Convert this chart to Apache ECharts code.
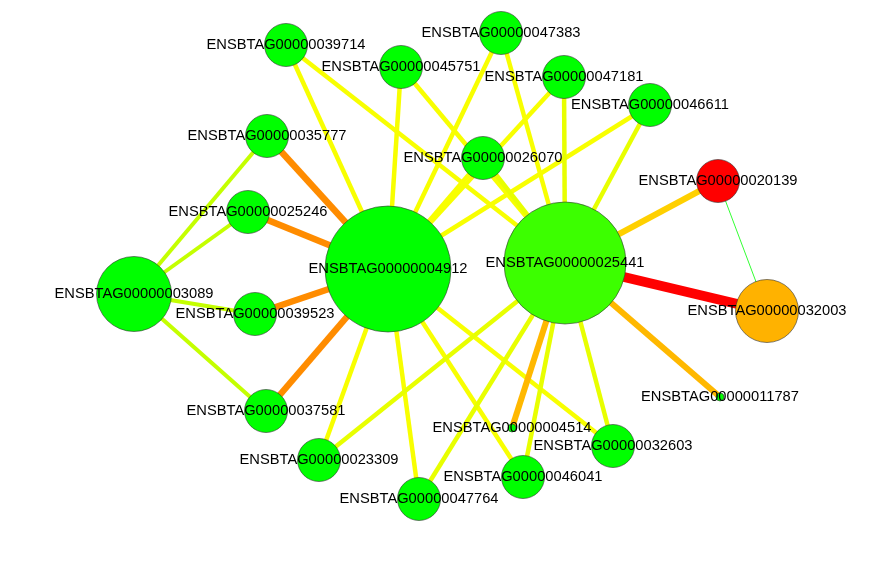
<!DOCTYPE html>
<html>
<head>
<meta charset="utf-8">
<script src="https://cdn.jsdelivr.net/npm/echarts@6/dist/echarts.min.js"></script>
<style>
  html, body { margin: 0; padding: 0; background: #fff; }
  #chart { width: 888px; height: 579px; }
</style>
</head>
<body>
<div id="chart"></div>
<script>
// node ids (Ensembl cattle genes)
const genes = [
  'ENSBTAG00000004912', 'ENSBTAG00000025441', 'ENSBTAG00000003089', 'ENSBTAG00000032003',
  'ENSBTAG00000020139', 'ENSBTAG00000039714', 'ENSBTAG00000045751', 'ENSBTAG00000047383',
  'ENSBTAG00000047181', 'ENSBTAG00000046611', 'ENSBTAG00000026070', 'ENSBTAG00000035777',
  'ENSBTAG00000025246', 'ENSBTAG00000039523', 'ENSBTAG00000037581', 'ENSBTAG00000023309',
  'ENSBTAG00000047764', 'ENSBTAG00000046041', 'ENSBTAG00000032603', 'ENSBTAG00000004514',
  'ENSBTAG00000011787'
];
// layout of the network
const layoutX = [388, 565, 134, 767, 718, 286, 401, 501, 564, 650, 483, 267, 248, 255, 266, 319, 419, 523, 613, 512, 720];
const layoutY = [269, 263, 294, 311, 181, 45, 67, 33, 77, 105, 158, 136, 212, 314, 411, 460, 499, 477, 446, 428, 397];
// node weight (drawn as diameter)
const nodeWeight = [126, 122, 75, 63, 43, 43, 43, 43, 43, 43, 43, 43, 43, 43, 43, 43, 43, 43, 43, 8, 8];
// node colour class
const nodeClass = ['g', 'lg', 'g', 'o', 'r', 'g', 'g', 'g', 'g', 'g', 'g', 'g', 'g', 'g', 'g', 'g', 'g', 'g', 'g', 'g', 'g'];

// edges: [source, target, class]
const edges = [
  ['ENSBTAG00000004912', 'ENSBTAG00000035777', 'orange'],
  ['ENSBTAG00000004912', 'ENSBTAG00000025246', 'orange'],
  ['ENSBTAG00000004912', 'ENSBTAG00000039523', 'orange'],
  ['ENSBTAG00000004912', 'ENSBTAG00000037581', 'orange'],
  ['ENSBTAG00000004912', 'ENSBTAG00000039714', 'yellow'],
  ['ENSBTAG00000004912', 'ENSBTAG00000045751', 'yellow'],
  ['ENSBTAG00000004912', 'ENSBTAG00000047383', 'yellow'],
  ['ENSBTAG00000004912', 'ENSBTAG00000026070', 'yellow'],
  ['ENSBTAG00000004912', 'ENSBTAG00000047181', 'yellow'],
  ['ENSBTAG00000004912', 'ENSBTAG00000046611', 'yellow'],
  ['ENSBTAG00000004912', 'ENSBTAG00000023309', 'yellow'],
  ['ENSBTAG00000004912', 'ENSBTAG00000047764', 'yellow'],
  ['ENSBTAG00000004912', 'ENSBTAG00000046041', 'yellow'],
  ['ENSBTAG00000004912', 'ENSBTAG00000032603', 'yellow'],
  ['ENSBTAG00000025441', 'ENSBTAG00000039714', 'yellow'],
  ['ENSBTAG00000025441', 'ENSBTAG00000045751', 'yellow'],
  ['ENSBTAG00000025441', 'ENSBTAG00000047383', 'yellow'],
  ['ENSBTAG00000025441', 'ENSBTAG00000026070', 'ylime'],
  ['ENSBTAG00000025441', 'ENSBTAG00000047181', 'ylime'],
  ['ENSBTAG00000025441', 'ENSBTAG00000046611', 'ylime'],
  ['ENSBTAG00000025441', 'ENSBTAG00000020139', 'gold'],
  ['ENSBTAG00000025441', 'ENSBTAG00000032003', 'red'],
  ['ENSBTAG00000025441', 'ENSBTAG00000011787', 'amber'],
  ['ENSBTAG00000025441', 'ENSBTAG00000004514', 'amber'],
  ['ENSBTAG00000025441', 'ENSBTAG00000032603', 'ylime'],
  ['ENSBTAG00000025441', 'ENSBTAG00000046041', 'ylime'],
  ['ENSBTAG00000025441', 'ENSBTAG00000047764', 'ylime'],
  ['ENSBTAG00000025441', 'ENSBTAG00000023309', 'ylime'],
  ['ENSBTAG00000003089', 'ENSBTAG00000035777', 'lime'],
  ['ENSBTAG00000003089', 'ENSBTAG00000025246', 'lime'],
  ['ENSBTAG00000003089', 'ENSBTAG00000039523', 'lime'],
  ['ENSBTAG00000003089', 'ENSBTAG00000037581', 'lime'],
  ['ENSBTAG00000020139', 'ENSBTAG00000032003', 'green']
];

const nodeColors = { g: '#00FF00', lg: '#3CFF00', o: '#FFB200', r: '#FF0000' };
const edgeStyles = {
  red:    { color: '#FF0000', width: 10 },
  orange: { color: '#FF8C00', width: 6.5 },
  amber:  { color: '#FFB800', width: 6 },
  gold:   { color: '#FFD000', width: 6 },
  yellow: { color: '#F8FF00', width: 4.5 },
  ylime:  { color: '#E8FF00', width: 4.5 },
  lime:   { color: '#C4FF00', width: 4 },
  green:  { color: '#33FF33', width: 1 }
};

const myChart = echarts.init(document.getElementById('chart'));

const nodes = genes.map((g, i) => ({
  name: g,
  value: [layoutX[i], layoutY[i]],
  symbolSize: nodeWeight[i],
  itemStyle: { color: nodeColors[nodeClass[i]], borderColor: '#333', borderWidth: 0.6 }
}));

const links = edges.map(e => ({
  source: e[0],
  target: e[1],
  lineStyle: { color: edgeStyles[e[2]].color, width: edgeStyles[e[2]].width, opacity: 1, curveness: 0 }
}));

myChart.setOption({
  backgroundColor: '#fff',
  animation: false,
  grid: { left: 0, right: 0, top: 0, bottom: 0 },
  xAxis: { type: 'value', min: 0, max: 888, show: false },
  yAxis: { type: 'value', min: 0, max: 579, inverse: true, show: false },
  series: [{
    type: 'graph',
    coordinateSystem: 'cartesian2d',
    layout: 'none',
    symbol: 'circle',
    data: nodes,
    links: links,
    label: {
      show: true,
      position: 'inside',
      color: '#000',
      fontFamily: 'Liberation Sans, Arial, sans-serif',
      fontSize: 14.7
    },
    emphasis: { disabled: true }
  }]
});
</script>
</body>
</html>
